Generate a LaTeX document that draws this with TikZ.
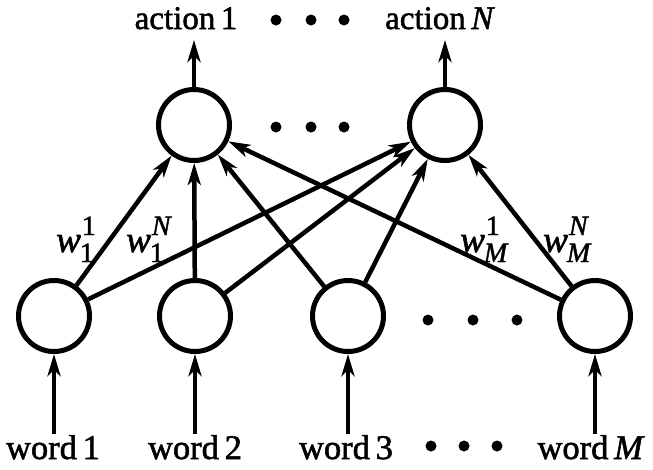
\documentclass[tikz,border=0pt]{standalone}
\usepackage{fontspec}
\setmainfont{Liberation Serif}[FakeBold=1.6]
\usetikzlibrary{arrows.meta}
% weight symbol: italic w with a raised and a lowered index
\newcommand{\wlab}[2]{\textit{w}\kern-1pt\rlap{\raisebox{17pt}{\fontsize{28}{28}\selectfont\kern2pt #1}}\raisebox{-10pt}{\fontsize{28}{28}\selectfont #2}}
\begin{document}
\begin{tikzpicture}[x=1pt,y=-1pt,
  unit/.style={circle,draw,line width=5pt,minimum size=71pt,inner sep=0pt},
  link/.style={line width=4.5pt,-{Stealth[length=22pt,width=13pt,inset=6pt]}},
  lbl/.style={inner sep=0pt,font=\fontsize{33}{38}\selectfont},
  inlbl/.style={inner sep=0pt,font=\fontsize{34.5}{40}\selectfont},
  wt/.style={inner sep=0pt,anchor=base west,font=\fontsize{37}{40}\selectfont},
  dot/.style={circle,fill,inner sep=0pt,minimum size=11pt}]
\useasboundingbox (0,0) rectangle (653,469);

% output units
\node[unit] (a1) at (194,125) {};
\node[unit] (aN) at (445,125) {};
% input units
\node[unit] (u1) at (54,316) {};
\node[unit] (u2) at (195,316) {};
\node[unit] (u3) at (348,316) {};
\node[unit] (uM) at (595,316) {};

% output labels
\node[lbl,anchor=base] (t1) at (186,29) {action\,1};
\node[lbl,anchor=base] (tN) at (440,29) {action\,\textit{N}};
\coordinate (o1) at (194,40);
\coordinate (oN) at (445,40);
\draw[link] (a1) -- (o1);
\draw[link] (aN) -- (oN);

% input labels
\node[inlbl,anchor=base] (l1) at (53,459) {word\,1};
\node[inlbl,anchor=base] (l2) at (195,459) {word\,2};
\node[inlbl,anchor=base] (l3) at (346,459) {word\,3};
\node[inlbl,anchor=base] (lM) at (591,459) {word\,\textit{M}};
\coordinate (i1) at (54,434);
\coordinate (i2) at (195,434);
\coordinate (i3) at (348,434);
\coordinate (iM) at (595,434);
\draw[link] (i1) -- (u1);
\draw[link] (i2) -- (u2);
\draw[link] (i3) -- (u3);
\draw[link] (iM) -- (uM);

% weighted connections
\foreach \s in {u1,u2,u3,uM}{
  \draw[link] (\s) -- (a1);
  \draw[link] (\s) -- (aN);
}

% weight labels
\node[wt] (w11) at (56,252) {\wlab{1}{1}};
\node[wt] (w1N) at (126,252) {\wlab{\textit{N}}{1}};
\node[wt] (wM1) at (460,252) {\wlab{1}{\textit{M}}};
\node[wt] (wMN) at (543,252) {\wlab{\textit{N}}{\textit{M}}};

% ellipses
\foreach \x [count=\i] in {276,311,344}{
  \node[dot] (dt\i) at (\x,20) {};
  \node[dot] (dm\i) at (\x,127) {};
}
\foreach \x [count=\i] in {428,473,517}{
  \node[dot] (dr\i) at (\x,320) {};
}
\foreach \x [count=\i] in {431,464,497}{
  \node[dot] (db\i) at (\x,446) {};
}
\end{tikzpicture}
\end{document}
